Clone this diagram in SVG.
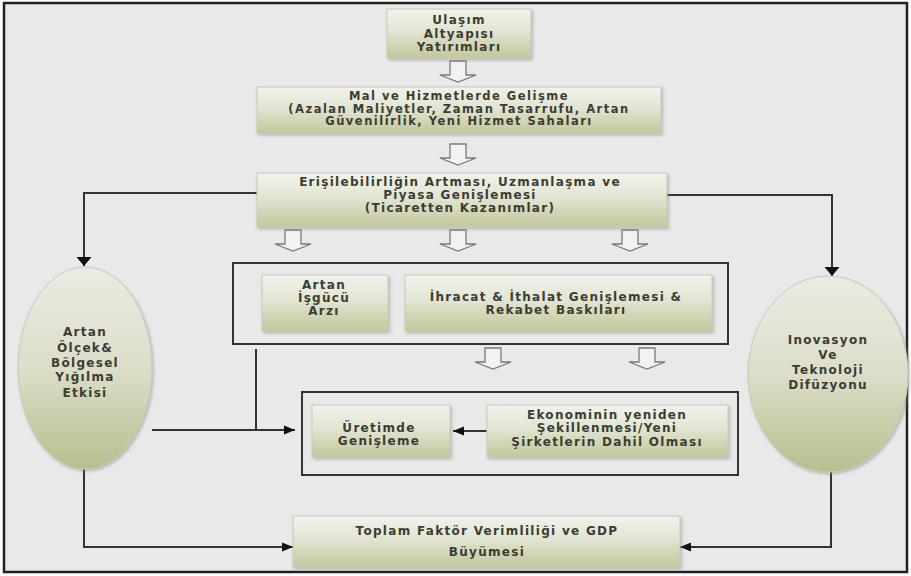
<svg xmlns="http://www.w3.org/2000/svg" width="911" height="576" viewBox="0 0 911 576">
<style>
.box{stroke:#c9cbb8;stroke-width:1;filter:url(#sh)}
.ell{stroke:#c9cbb8;stroke-width:1;filter:url(#sh)}
.cont{fill:none;stroke:#333;stroke-width:2}
.t{font-family:"DejaVu Sans",sans-serif;font-weight:bold;font-size:12px;letter-spacing:1.3px;fill:#3b3d33;text-anchor:middle}
.s{font-size:11.5px;letter-spacing:1.5px}
.con{fill:none;stroke:#333;stroke-width:2}
.ha{fill:#f2f2f0;stroke:#7a7a7a;stroke-width:1.3}
</style>
<defs>
<linearGradient id="gb" x1="0" y1="0" x2="0" y2="1">
<stop offset="0" stop-color="#f1f2ec"/><stop offset="0.45" stop-color="#e2e5d2"/><stop offset="1" stop-color="#c2c79b"/>
</linearGradient>
<linearGradient id="ge" x1="0" y1="0" x2="0" y2="1">
<stop offset="0" stop-color="#ebebe4"/><stop offset="0.5" stop-color="#dcdec9"/><stop offset="1" stop-color="#b8be8e"/>
</linearGradient>
<filter id="sh" x="-10%" y="-10%" width="125%" height="130%">
<feDropShadow dx="1.5" dy="2" stdDeviation="1.5" flood-color="#888" flood-opacity="0.5"/>
</filter>
<marker id="mb" markerUnits="userSpaceOnUse" markerWidth="16" markerHeight="16" refX="9" refY="8" orient="auto">
<path d="M0,0.5 L9,8 L0,15.5 z" fill="#111"/>
</marker>
<marker id="ms" markerUnits="userSpaceOnUse" markerWidth="12" markerHeight="12" refX="11" refY="6" orient="auto">
<path d="M0,1.5 L11,6 L0,10.5 z" fill="#111"/>
</marker>
<path id="ha" class="ha" d="M-8,0 h16 v14 h10 l-18,7 l-18,-7 h10 z"/>
</defs>
<rect x="0" y="0" width="911" height="576" fill="#ffffff"/>
<rect x="4" y="3" width="903" height="569" fill="#e8e9e8" stroke="#222" stroke-width="2.5"/>

<g id="hollow-arrows">
<use href="#ha" x="458" y="61"/>
<use href="#ha" x="458" y="144"/>
<use href="#ha" x="293" y="230"/>
<use href="#ha" x="458" y="230"/>
<use href="#ha" x="630" y="230"/>
<use href="#ha" x="493" y="348"/>
<use href="#ha" x="647" y="348"/>
</g>

<g id="containers">
<rect class="cont" x="233" y="263" width="495" height="81"/>
<rect class="cont" x="302" y="392" width="436" height="83"/>
</g>

<g id="connectors">
<path class="con" d="M257,193 H84 V266" marker-end="url(#mb)"/>
<path class="con" d="M667,195 H832 V276" marker-end="url(#mb)"/>
<path class="con" d="M256,349 V430"/>
<path class="con" d="M152,430 H295" marker-end="url(#ms)"/>
<path class="con" d="M487,431 H453" marker-end="url(#ms)"/>
<path class="con" d="M84,469 V547 H293" marker-end="url(#ms)"/>
<path class="con" d="M831,472 V547 H680" marker-end="url(#ms)"/>
</g>

<g id="n-ulasim">
<rect class="box" x="387" y="9" width="144" height="49" fill="url(#gb)"/>
<text class="t" x="459" y="24">Ulaşım</text>
<text class="t" x="459" y="37.5">Altyapısı</text>
<text class="t" x="459" y="51">Yatırımları</text>
</g>

<g id="n-mal">
<rect class="box" x="257" y="87" width="404" height="46" fill="url(#gb)"/>
<text class="t s" x="459" y="100">Mal ve Hizmetlerde Gelişme</text>
<text class="t s" x="459" y="112.5">(Azalan Maliyetler, Zaman Tasarrufu, Artan</text>
<text class="t s" x="459" y="125">Güvenilirlik, Yeni Hizmet Sahaları</text>
</g>

<g id="n-erisim">
<rect class="box" x="257" y="173" width="410" height="54" fill="url(#gb)"/>
<text class="t" x="460" y="186">Erişilebilirliğin Artması, Uzmanlaşma ve</text>
<text class="t" x="460" y="199">Piyasa Genişlemesi</text>
<text class="t" x="460" y="212">(Ticaretten Kazanımlar)</text>
</g>

<g id="n-isgucu">
<rect class="box" x="262" y="275" width="126" height="56" fill="url(#gb)"/>
<text class="t" x="324" y="289">Artan</text>
<text class="t" x="324" y="302">İşgücü</text>
<text class="t" x="324" y="315">Arzı</text>
</g>

<g id="n-ihracat">
<rect class="box" x="405" y="275" width="307" height="56" fill="url(#gb)"/>
<text class="t" x="556" y="301">İhracat &amp; İthalat Genişlemesi &amp;</text>
<text class="t" x="556" y="314">Rekabet Baskıları</text>
</g>

<g id="n-uretim">
<rect class="box" x="312" y="405" width="138" height="52" fill="url(#gb)"/>
<text class="t" x="379" y="432">Üretimde</text>
<text class="t" x="379" y="445">Genişleme</text>
</g>

<g id="n-ekonomi">
<rect class="box" x="487" y="405" width="241" height="52" fill="url(#gb)"/>
<text class="t" x="607" y="419">Ekonominin yeniden</text>
<text class="t" x="607" y="432">Şekillenmesi/Yeni</text>
<text class="t" x="607" y="446">Şirketlerin Dahil Olması</text>
</g>

<g id="n-olcek">
<ellipse class="ell" cx="85" cy="368" rx="67" ry="101" fill="url(#ge)"/>
<text class="t" x="85" y="336">Artan</text>
<text class="t" x="85" y="352">Ölçek&amp;</text>
<text class="t" x="85" y="367">Bölgesel</text>
<text class="t" x="85" y="381">Yığılma</text>
<text class="t" x="85" y="397">Etkisi</text>
</g>

<g id="n-inovasyon">
<ellipse class="ell" cx="828" cy="374" rx="80" ry="98" fill="url(#ge)"/>
<text class="t" x="828" y="344">Inovasyon</text>
<text class="t" x="828" y="359">Ve</text>
<text class="t" x="828" y="374">Teknoloji</text>
<text class="t" x="828" y="389">Difüzyonu</text>
</g>

<g id="n-gdp">
<rect class="box" x="293" y="516" width="387" height="51" fill="url(#gb)"/>
<text class="t" x="487" y="535">Toplam Faktör Verimliliği ve GDP</text>
<text class="t" x="487" y="556">Büyümesi</text>
</g>
</svg>
